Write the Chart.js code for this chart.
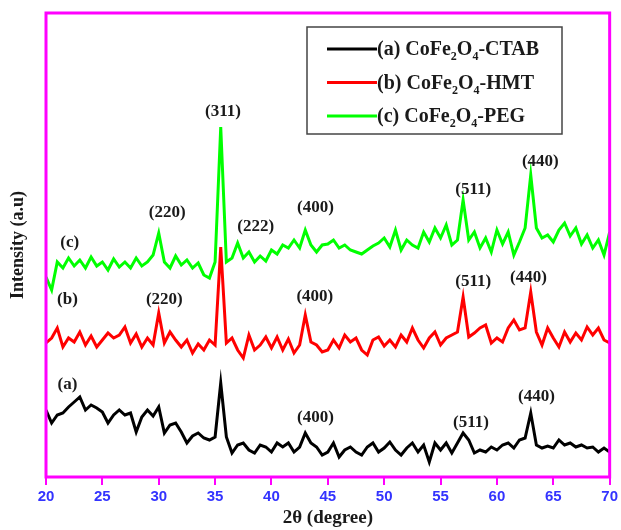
<!DOCTYPE html>
<html>
<head>
<meta charset="utf-8">
<script src="https://cdn.jsdelivr.net/npm/chart.js@4.4.1/dist/chart.umd.min.js"></script>
<style>
  html, body { margin: 0; padding: 0; background: #fff; }
  #wrap { width: 621px; height: 530px; }
</style>
</head>
<body>
<div id="wrap"><canvas id="chart"></canvas></div>
<script>
// 2θ positions (degree)
const angles = [
  20, 20.5, 21, 21.5, 22, 22.5, 23, 23.5, 24, 24.5,
  25, 25.5, 26, 26.5, 27, 27.5, 28, 28.5, 29, 29.5,
  30, 30.5, 31, 31.5, 32, 32.5, 33, 33.5, 34, 34.5,
  35, 35.5, 36, 36.5, 37, 37.5, 38, 38.5, 39, 39.5,
  40, 40.5, 41, 41.5, 42, 42.5, 43, 43.5, 44, 44.5,
  45, 45.5, 46, 46.5, 47, 47.5, 48, 48.5, 49, 49.5,
  50, 50.5, 51, 51.5, 52, 52.5, 53, 53.5, 54, 54.5,
  55, 55.5, 56, 56.5, 57, 57.5, 58, 58.5, 59, 59.5,
  60, 60.5, 61, 61.5, 62, 62.5, 63, 63.5, 64, 64.5,
  65, 65.5, 66, 66.5, 67, 67.5, 68, 68.5, 69, 69.5,
  70
];

// intensities (a.u), curves already offset as in the figure
const ctab = [
  67, 54, 62, 64, 70, 75, 80, 67, 72, 69,
  65, 54, 62, 67, 62, 64, 45, 60, 67, 61,
  70, 44, 52, 54, 45, 34, 41, 44, 39, 37,
  40, 94, 40, 24, 32, 34, 27, 24, 32, 30,
  25, 34, 30, 34, 25, 30, 44, 34, 30, 22,
  25, 34, 20, 27, 30, 25, 22, 30, 34, 25,
  29, 35, 27, 22, 29, 34, 25, 32, 15, 34,
  27, 34, 24, 34, 44, 37, 24, 27, 25, 30,
  27, 32, 34, 29, 37, 39, 64, 32, 29, 31,
  29, 37, 32, 34, 30, 32, 29, 30, 25, 29,
  25
];
const hmt = [
  134, 139, 149, 130, 139, 135, 145, 132, 141, 130,
  137, 144, 139, 142, 150, 134, 143, 130, 139, 132,
  164, 134, 145, 137, 130, 137, 124, 133, 127, 137,
  132, 230, 134, 139, 127, 119, 142, 127, 132, 140,
  129, 140, 127, 138, 124, 132, 162, 135, 132, 125,
  127, 137, 129, 142, 135, 139, 127, 122, 137, 140,
  131, 137, 130, 142, 135, 149, 137, 129, 139, 145,
  132, 139, 142, 145, 180, 140, 144, 149, 152, 134,
  139, 135, 149, 157, 147, 149, 185, 145, 132, 149,
  139, 130, 145, 135, 144, 137, 150, 142, 149, 137,
  134
];
const peg = [
  200, 187, 215, 209, 219, 211, 217, 209, 220, 211,
  215, 207, 218, 210, 215, 209, 219, 211, 215, 222,
  244, 215, 209, 221, 212, 217, 209, 214, 202, 199,
  215, 350, 215, 219, 234, 219, 225, 215, 221, 216,
  227, 223, 232, 229, 237, 229, 247, 232, 225, 232,
  233, 237, 229, 232, 227, 225, 223, 227, 231, 234,
  239, 230, 247, 227, 237, 232, 229, 245, 235, 249,
  239, 252, 232, 237, 277, 237, 245, 229, 239, 225,
  247, 233, 245, 222, 235, 249, 302, 249, 239, 242,
  235, 247, 254, 241, 249, 233, 242, 229, 237, 222,
  245
];

const xTicks = [20, 25, 30, 35, 40, 45, 50, 55, 60, 65, 70];

// peak labels: text, 2θ, intensity
const peakText = ["(c)", "(220)", "(311)", "(222)", "(400)", "(511)", "(440)",
                  "(b)", "(220)", "(400)", "(511)", "(440)",
                  "(a)", "(400)", "(511)", "(440)"];
const peakAngle = [22.1, 30.75, 35.7, 38.6, 43.9, 57.9, 63.85,
                   21.9, 30.5, 43.85, 57.9, 62.8,
                   21.9, 43.9, 57.7, 63.5];
const peakValue = [234, 264, 365, 250, 269, 287, 315,
                   177, 177, 180, 195, 199,
                   92, 59, 54, 80];

const legendNames = [["(a) CoFe", "2", "O", "4", "-CTAB"],
                     ["(b) CoFe", "2", "O", "4", "-HMT"],
                     ["(c) CoFe", "2", "O", "4", "-PEG"]];
const colors = ["#000000", "#ff0000", "#00ff00"];

const toPoints = (vals) => vals.map((v, i) => ({ x: angles[i], y: v }));

const serif = "'Liberation Serif', 'Times New Roman', serif";

const decor = {
  id: "decor",
  afterDatasetsDraw: (chart) => {
    const { ctx, chartArea: a, scales } = chart;
    ctx.save();
    // peak labels
    ctx.fillStyle = "#1a1a1a";
    ctx.font = "bold 17px " + serif;
    ctx.textAlign = "center";
    ctx.textBaseline = "middle";
    peakText.forEach((t, i) => {
      ctx.fillText(t, scales.x.getPixelForValue(peakAngle[i]), scales.y.getPixelForValue(peakValue[i]));
    });

    // legend box
    ctx.strokeStyle = "#444";
    ctx.lineWidth = 1.5;
    ctx.fillStyle = "#fff";
    ctx.fillRect(307, 27, 255, 107);
    ctx.strokeRect(307, 27, 255, 107);
    ctx.textAlign = "left";
    ctx.textBaseline = "alphabetic";
    legendNames.forEach((parts, i) => {
      const y = 49 + i * 33.5;
      ctx.strokeStyle = colors[i];
      ctx.lineWidth = 3;
      ctx.beginPath();
      ctx.moveTo(327, y);
      ctx.lineTo(377, y);
      ctx.stroke();
      ctx.fillStyle = "#1a1a1a";
      let x = 377;
      parts.forEach((p, k) => {
        const sub = k === 1 || k === 3;
        ctx.font = sub ? "bold 12px " + serif : "bold 20px " + serif;
        ctx.fillText(p, x, y + (sub ? 11 : 6));
        x += ctx.measureText(p).width;
      });
    });

    // frame
    ctx.strokeStyle = "#ff00ff";
    ctx.lineWidth = 3;
    ctx.strokeRect(a.left, a.top, a.right - a.left, a.bottom - a.top);
    ctx.restore();
  },
};

new Chart(document.getElementById("chart"), {
  type: "line",
  data: {
    datasets: [
      { label: "(a) CoFe2O4-CTAB", data: toPoints(ctab), borderColor: colors[0] },
      { label: "(b) CoFe2O4-HMT", data: toPoints(hmt), borderColor: colors[1] },
      { label: "(c) CoFe2O4-PEG", data: toPoints(peg), borderColor: colors[2] },
    ],
  },
  options: {
    responsive: true,
    maintainAspectRatio: false,
    animation: false,
    elements: {
      line: { borderWidth: 3, tension: 0 },
      point: { radius: 0 },
    },
    layout: { padding: { top: 13, right: 9, left: 0, bottom: 0 } },
    scales: {
      x: {
        type: "linear",
        min: 20,
        max: 70,
        afterBuildTicks: (axis) => {
          axis.ticks = xTicks.map((v) => ({ value: v }));
        },
        afterFit: (axis) => {
          axis.height = 53;
        },
        border: { display: false },
        grid: {
          drawOnChartArea: false,
          color: "#ff00ff",
          lineWidth: 2,
          tickLength: 8,
        },
        ticks: {
          color: "#3333ff",
          padding: 3,
          maxRotation: 0,
          font: { family: "'Liberation Sans', Arial, sans-serif", size: 15, weight: "bold" },
        },
        title: {
          display: true,
          text: "2θ (degree)",
          color: "#1a1a1a",
          padding: { top: 0, bottom: 1 },
          font: { family: serif, size: 19, weight: "bold" },
        },
      },
      y: {
        min: 0,
        max: 464,
        afterFit: (axis) => {
          axis.width = 46;
        },
        border: { display: false },
        grid: { display: false },
        ticks: { display: false },
        title: {
          display: true,
          text: "Intensity (a.u)",
          color: "#1a1a1a",
          padding: { top: 8, bottom: 0 },
          font: { family: serif, size: 18, weight: "bold" },
        },
      },
    },
    plugins: {
      legend: { display: false },
      tooltip: { enabled: false },
    },
  },
  plugins: [decor],
});
</script>
</body>
</html>
